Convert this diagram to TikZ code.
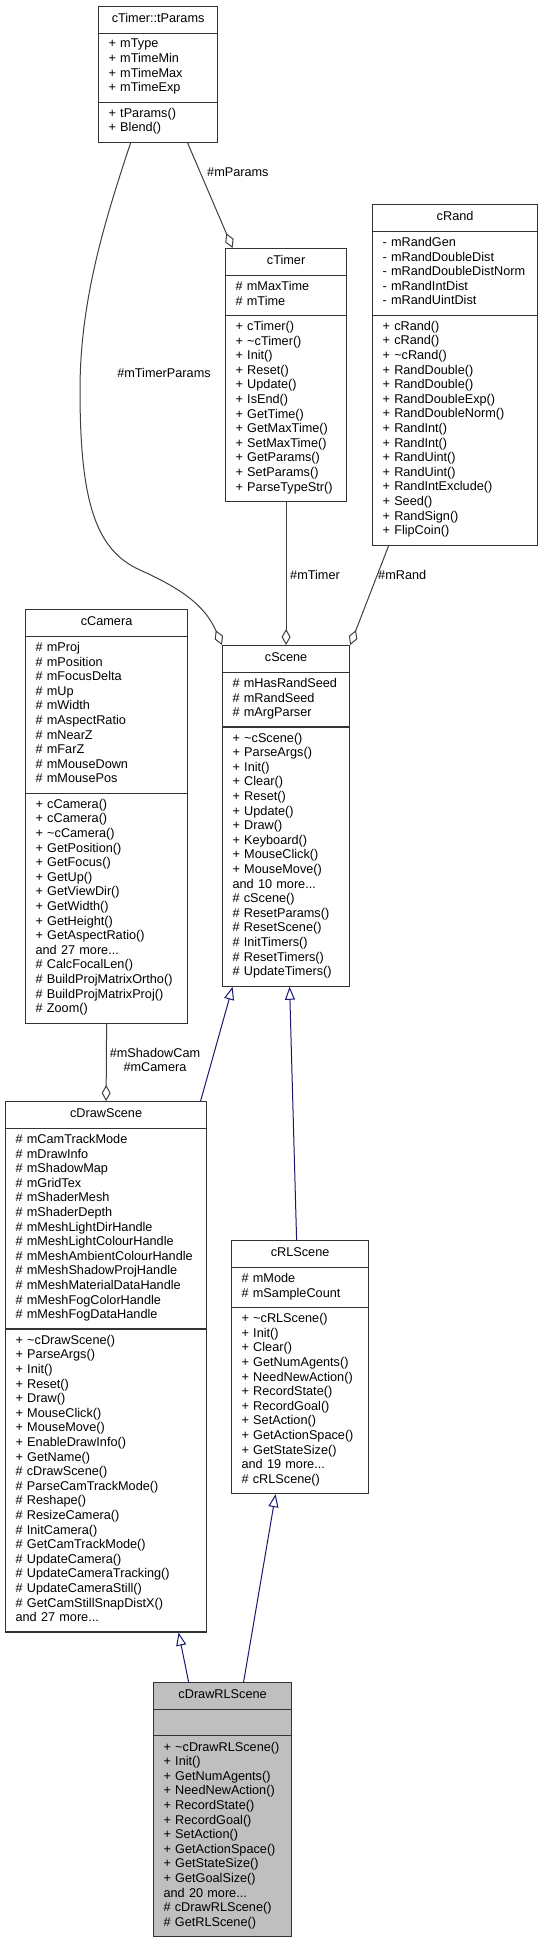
\documentclass[tikz,border=0pt]{standalone}
\usepackage{fontspec}
\setmainfont{Liberation Sans}
\usepackage{xcolor}
\usetikzlibrary{arrows.meta,shapes.multipart}

\definecolor{edgegray}{HTML}{404040}
\definecolor{inhblue}{HTML}{191970}
\hyphenpenalty=10000
\exhyphenpenalty=10000

\begin{document}
\begin{tikzpicture}[x=1pt, y=-1pt,
  umlclass/.style={rectangle split, rectangle split parts=3, draw=black!80, line width=1.2pt,
    fill=white, anchor=north west, inner xsep=10pt, inner ysep=5.4pt, text height=10.22pt,
    align=left, font=\fontsize{12.7}{14.6}\selectfont},
  agg/.style={edgegray, line width=1pt, -{Diamond[open, fill=white, length=16pt, width=9pt]}},
  inherit/.style={inhblue, line width=1pt, -{Triangle[open, fill=white, length=13pt, width=10pt]}},
  role/.style={inner sep=0pt, font=\fontsize{12.7}{14.6}\selectfont}]
  \path[use as bounding box, fill=white] (0,0) rectangle (542,1940);

  % classes
  \node[umlclass, text width=99pt] (tparams) at (98,6) {\hfill cTimer::tParams\hfill\strut
    \nodepart{second} +~mType\\ +~mTimeMin\\ +~mTimeMax\\ +~mTimeExp\strut
    \nodepart{third} +~tParams()\\ +~Blend()\strut};
  \node[umlclass, text width=101pt] (timer) at (225,248) {\hfill cTimer\hfill\strut
    \nodepart{second} \#~mMaxTime\\ \#~mTime\strut
    \nodepart{third} +~cTimer()\\ +~\textasciitilde cTimer()\\ +~Init()\\ +~Reset()\\ +~Update()\\
    +~IsEnd()\\ +~GetTime()\\ +~GetMaxTime()\\ +~SetMaxTime()\\ +~GetParams()\\ +~SetParams()\\
    +~ParseTypeStr()\strut};
  \node[umlclass, text width=145pt] (rand) at (372,204) {\hfill cRand\hfill\strut
    \nodepart{second} -~mRandGen\\ -~mRandDoubleDist\\ -~mRandDoubleDistNorm\\ -~mRandIntDist\\
    -~mRandUintDist\strut
    \nodepart{third} +~cRand()\\ +~cRand()\\ +~\textasciitilde cRand()\\ +~RandDouble()\\ +~RandDouble()\\
    +~RandDoubleExp()\\ +~RandDoubleNorm()\\ +~RandInt()\\ +~RandInt()\\ +~RandUint()\\ +~RandUint()\\
    +~RandIntExclude()\\ +~Seed()\\ +~RandSign()\\ +~FlipCoin()\strut};
  \node[umlclass, text width=142pt] (camera) at (25,609) {\hfill cCamera\hfill\strut
    \nodepart{second} \#~mProj\\ \#~mPosition\\ \#~mFocusDelta\\ \#~mUp\\ \#~mWidth\\ \#~mAspectRatio\\
    \#~mNearZ\\ \#~mFarZ\\ \#~mMouseDown\\ \#~mMousePos\strut
    \nodepart{third} +~cCamera()\\ +~cCamera()\\ +~\textasciitilde cCamera()\\ +~GetPosition()\\
    +~GetFocus()\\ +~GetUp()\\ +~GetViewDir()\\ +~GetWidth()\\ +~GetHeight()\\ +~GetAspectRatio()\\
    and~27~more...\\ \#~CalcFocalLen()\\ \#~BuildProjMatrixOrtho()\\ \#~BuildProjMatrixProj()\\
    \#~Zoom()\strut};
  \node[umlclass, text width=107pt] (scene) at (222,645) {\hfill cScene\hfill\strut
    \nodepart{second} \#~mHasRandSeed\\ \#~mRandSeed\\ \#~mArgParser\strut
    \nodepart{third} +~\textasciitilde cScene()\\ +~ParseArgs()\\ +~Init()\\ +~Clear()\\ +~Reset()\\
    +~Update()\\ +~Draw()\\ +~Keyboard()\\ +~MouseClick()\\ +~MouseMove()\\ and~10~more...\\
    \#~cScene()\\ \#~ResetParams()\\ \#~ResetScene()\\ \#~InitTimers()\\ \#~ResetTimers()\\
    \#~UpdateTimers()\strut};
  \node[umlclass, text width=181pt] (drawscene) at (5,1101) {\hfill cDrawScene\hfill\strut
    \nodepart{second} \#~mCamTrackMode\\ \#~mDrawInfo\\ \#~mShadowMap\\ \#~mGridTex\\ \#~mShaderMesh\\
    \#~mShaderDepth\\ \#~mMeshLightDirHandle\\ \#~mMeshLightColourHandle\\ \#~mMeshAmbientColourHandle\\
    \#~mMeshShadowProjHandle\\ \#~mMeshMaterialDataHandle\\ \#~mMeshFogColorHandle\\
    \#~mMeshFogDataHandle\strut
    \nodepart{third} +~\textasciitilde cDrawScene()\\ +~ParseArgs()\\ +~Init()\\ +~Reset()\\ +~Draw()\\
    +~MouseClick()\\ +~MouseMove()\\ +~EnableDrawInfo()\\ +~GetName()\\ \#~cDrawScene()\\
    \#~ParseCamTrackMode()\\ \#~Reshape()\\ \#~ResizeCamera()\\ \#~InitCamera()\\
    \#~GetCamTrackMode()\\ \#~UpdateCamera()\\ \#~UpdateCameraTracking()\\ \#~UpdateCameraStill()\\
    \#~GetCamStillSnapDistX()\\ and~27~more...\strut};
  \node[umlclass, text width=117pt] (rlscene) at (231,1240) {\hfill cRLScene\hfill\strut
    \nodepart{second} \#~mMode\\ \#~mSampleCount\strut
    \nodepart{third} +~\textasciitilde cRLScene()\\ +~Init()\\ +~Clear()\\ +~GetNumAgents()\\
    +~NeedNewAction()\\ +~RecordState()\\ +~RecordGoal()\\ +~SetAction()\\ +~GetActionSpace()\\
    +~GetStateSize()\\ and~19~more...\\ \#~cRLScene()\strut};
  \node[umlclass, text width=118pt, fill=black!25] (drawrlscene) at (153,1682) {\hfill cDrawRLScene\hfill\strut
    \nodepart{second} \strut
    \nodepart{third} +~\textasciitilde cDrawRLScene()\\ +~Init()\\ +~GetNumAgents()\\ +~NeedNewAction()\\
    +~RecordState()\\ +~RecordGoal()\\ +~SetAction()\\ +~GetActionSpace()\\ +~GetStateSize()\\
    +~GetGoalSize()\\ and~20~more...\\ \#~cDrawRLScene()\\ \#~GetRLScene()\strut};

  % members
  \draw[agg] ([xshift=29.5pt]tparams.south) -- ([xshift=-53.5pt]timer.north);
  \node[role, anchor=west] (lparams) at (207,172) {\#mParams};
  \draw[agg] ([xshift=-27.5pt]tparams.south) .. controls (105,220) and (80,300) .. (80,390)
    .. controls (80,500) and (95,550) .. (140,570) .. controls (180,588) and (205,605) .. (scene.north west);
  \node[role] (ltimerparams) at (164,373) {\#mTimerParams};
  \draw[agg] (timer.south) -- (scene.north);
  \node[role, anchor=west] (ltimer) at (290,575) {\#mTimer};
  \draw[agg] ([xshift=-66.5pt]rand.south) -- (scene.north east);
  \node[role, anchor=west] (lrand) at (378,575) {\#mRand};
  \draw[agg] (camera.south) -- (drawscene.north);
  \node[role, align=center] (lcamera) at (155,1060) {\#mShadowCam\\ \#mCamera};

  % inheritance
  \draw[inherit] ([xshift=94.5pt]drawscene.north) -- ([xshift=-53.5pt]scene.south);
  \draw[inherit] ([xshift=-3.5pt]rlscene.north) -- ([xshift=3.5pt]scene.south);
  \draw[inherit] ([xshift=-34pt]drawrlscene.north) -- ([xshift=72.5pt]drawscene.south);
  \draw[inherit] ([xshift=21pt]drawrlscene.north) -- ([xshift=-24.5pt]rlscene.south);
\end{tikzpicture}
\end{document}
